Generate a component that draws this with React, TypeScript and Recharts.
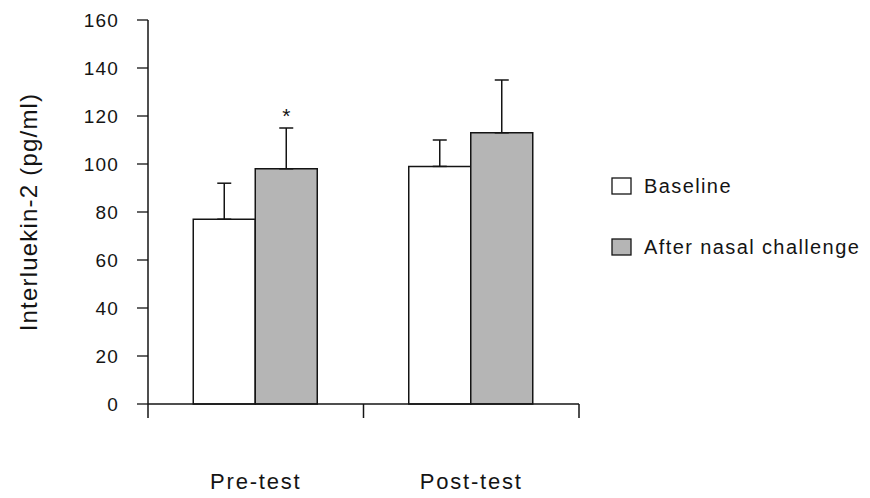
import { BarChart, Bar, XAxis, YAxis, ErrorBar, Legend, LabelList } from 'recharts';

const categories = ['Pre-test', 'Post-test'];
const baseline = [77, 99];
const baselineErr = [15, 11];
const challenge = [98, 113];
const challengeErr = [17, 22];
const marks = ['*', ''];
const yTicks = [0, 20, 40, 60, 80, 100, 120, 140, 160];
const edgeTicks = [0, 1, 2];

const data = categories.map((name, i) => ({
    name,
    baseline: baseline[i],
    baselineErr: [0, baselineErr[i]],
    challenge: challenge[i],
    challengeErr: [0, challengeErr[i]],
    mark: marks[i],
}));

const FONT = '"Liberation Sans", Arial, sans-serif';
const INK = '#141414';
const GREY = '#b5b5b5';
const CAT_MARGIN = 68;

// edge axis: draws the category boundary ticks from its own scale
const boundaryTick = (props: any) => {
    const { x, y } = props;
    return <line x1={x} x2={x} y1={y - 14} y2={y} stroke={INK} strokeWidth={1.5} />;
};

// category label, plus the divider tick between neighbouring bands
const categoryTick = (props: any) => {
    const { x, y, payload, index, width, visibleTicksCount } = props;
    const half = width / visibleTicksCount / 2;
    const axisY = y - CAT_MARGIN - 1;
    return (
        <g>
            {index < visibleTicksCount - 1 && Number.isFinite(half) && (
                <line x1={x + half} x2={x + half} y1={axisY} y2={axisY + 14} stroke={INK} strokeWidth={1.5} />
            )}
            <text
                x={x}
                y={y}
                dy="0.71em"
                textAnchor="middle"
                fontFamily={FONT}
                fontSize={22}
                letterSpacing={1.8}
                fill={INK}
            >
                {payload.value}
            </text>
        </g>
    );
};

const renderStar = (props: any) => {
    const { x, y, width, height, value, index } = props;
    if (!value) return null;
    const perUnit = height / challenge[index];
    const errTop = y - challengeErr[index] * perUnit;
    return (
        <text x={x + width / 2} y={errTop - 5} textAnchor="middle" fontSize={21} fontFamily={FONT} fill={INK}>
            {value}
        </text>
    );
};

const renderLegend = (props: any) => {
    const { payload } = props;
    return (
        <div style={{ fontFamily: FONT, fontSize: 20, letterSpacing: 1.4, color: INK, whiteSpace: 'nowrap' }}>
            {payload.map((entry: any) => (
                <div key={entry.value} style={{ display: 'flex', alignItems: 'center', height: 24, marginBottom: 37 }}>
                    <svg width={22} height={18} style={{ marginRight: 11, flexShrink: 0 }}>
                        <rect x={1} y={1} width={19} height={16} fill={entry.color} stroke={INK} strokeWidth={1.3} />
                    </svg>
                    <span>{entry.value}</span>
                </div>
            ))}
        </div>
    );
};

export default function App() {
    return (
        <div style={{ position: 'absolute', left: 0, top: 0, background: '#fff' }}>
            <BarChart
                width={870}
                height={498}
                data={data}
                margin={{ top: 20, right: 291, bottom: 4, left: 0 }}
                barCategoryGap="21%"
                barGap={0}
            >
                <XAxis
                    xAxisId="a_edges"
                    type="number"
                    domain={[0, 2]}
                    ticks={edgeTicks}
                    interval={0}
                    allowDataOverflow
                    tick={boundaryTick}
                    axisLine={{ stroke: INK, strokeWidth: 1.5 }}
                    tickSize={14}
                    tickMargin={0}
                    tickLine={false}
                    height={1}
                />
                <XAxis
                    xAxisId="b_cat"
                    dataKey="name"
                    height={89}
                    interval={0}
                    tickLine={false}
                    tickSize={0}
                    tickMargin={CAT_MARGIN}
                    axisLine={false}
                    tick={categoryTick}
                />
                <YAxis
                    domain={[0, 160]}
                    ticks={yTicks}
                    width={148}
                    tickSize={11}
                    tickMargin={18}
                    axisLine={{ stroke: INK, strokeWidth: 1.5 }}
                    tickLine={{ stroke: INK, strokeWidth: 1.3 }}
                    tick={{ fontFamily: FONT, fontSize: 19, letterSpacing: 1.2, fill: INK }}
                    label={{
                        value: 'Interluekin-2 (pg/ml)',
                        angle: -90,
                        position: 'insideLeft',
                        offset: 28,
                        style: { textAnchor: 'middle', fontFamily: FONT, fontSize: 24, letterSpacing: 1.2, fill: INK },
                    }}
                />
                <Legend
                    layout="horizontal"
                    verticalAlign="middle"
                    align="right"
                    itemSorter="dataKey"
                    content={renderLegend}
                    wrapperStyle={{ position: 'absolute', left: 611, top: 174, width: 0, height: 0 }}
                />
                <Bar
                    xAxisId="b_cat"
                    dataKey="baseline"
                    name="Baseline"
                    fill="#ffffff"
                    stroke={INK}
                    strokeWidth={1.5}
                    isAnimationActive={false}
                >
                    <ErrorBar dataKey="baselineErr" width={7} stroke={INK} strokeWidth={1.5} direction="y" />
                </Bar>
                <Bar
                    xAxisId="b_cat"
                    dataKey="challenge"
                    name="After nasal challenge"
                    fill={GREY}
                    stroke={INK}
                    strokeWidth={1.5}
                    isAnimationActive={false}
                >
                    <ErrorBar dataKey="challengeErr" width={7} stroke={INK} strokeWidth={1.5} direction="y" />
                    <LabelList dataKey="mark" content={renderStar} />
                </Bar>
            </BarChart>
        </div>
    );
}
